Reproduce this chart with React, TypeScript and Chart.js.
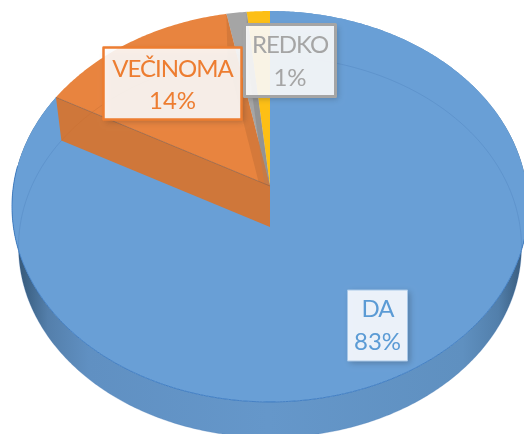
import React, { useEffect, useRef } from "react";
import { Chart, registerables } from "chart.js";

Chart.register(...registerables);

const categories = ["DA", "VEČINOMA", "REDKO", ""];
const shareValues = [83, 14, 1.4, 1.6];
const topColors = ["#699fd6", "#e8843f", "#a5a5a5", "#fdbf15"];
const wallColors = ["#6295c8", "#cf773a", "#8f8f8f", "#d9a40f"];
const textColors = ["#5b9bd5", "#ed7d31", "#a5a5a5", "#ffc000"];

const labelBoxes = [
  { x: 347.5, y: 290, w: 60, h: 71, border: "#a9c8e8", lw: 1, fill: "rgba(240,245,252,0.97)", line1: 19, line2: 52 },
  { x: 103.5, y: 47.5, w: 138, h: 72, border: "#ed7d31", lw: 2.5, fill: "rgba(255,255,255,0.88)", line1: 22, line2: 54 },
  { x: 244.5, y: 24.5, w: 91, h: 72, border: "#a5a5a5", lw: 3, fill: "rgba(255,255,255,0.89)", line1: 21, line2: 54 },
];

// perspective of the pie's disc
const CX = 270;
const AX = 256.6;
const BY = 193.3;
const PERSP = 0.1048;
const APEX_Y = 186;
const NADIR_Y = 1800;
const DROP = 0.9746;

type P = [number, number];

function topPoint(u: number, v: number): P {
  const w = 1 + PERSP * v;
  return [CX + (AX * u) / w, APEX_Y - (BY * v) / w];
}
function lowPoint(u: number, v: number): P {
  const [x, y] = topPoint(u, v);
  return [CX + (x - CX) * DROP, NADIR_Y + (y - NADIR_Y) * DROP];
}
function arcPoints(a0: number, a1: number, fn: (u: number, v: number) => P): P[] {
  const out: P[] = [];
  const n = Math.max(2, Math.ceil((a1 - a0) / 0.01));
  for (let i = 0; i <= n; i++) {
    const t = a0 + ((a1 - a0) * i) / n + Math.PI / 2;
    out.push(fn(Math.sin(t), Math.cos(t)));
  }
  return out;
}
function poly(ctx: CanvasRenderingContext2D, pts: P[]) {
  ctx.beginPath();
  pts.forEach((p, i) => (i ? ctx.lineTo(p[0], p[1]) : ctx.moveTo(p[0], p[1])));
  ctx.closePath();
}
function line(ctx: CanvasRenderingContext2D, pts: P[], color: string) {
  ctx.beginPath();
  pts.forEach((p, i) => (i ? ctx.lineTo(p[0], p[1]) : ctx.moveTo(p[0], p[1])));
  ctx.strokeStyle = color;
  ctx.lineWidth = 1;
  ctx.stroke();
}

const pie3d = {
  id: "pie3d",
  beforeDatasetDraw() {
    return false;
  },
  afterDatasetsDraw(chart: any) {
    const ctx: CanvasRenderingContext2D = chart.ctx;
    const arcs = chart.getDatasetMeta(0).data;
    const apex = topPoint(0, 0);
    const apexLow = lowPoint(0, 0);
    ctx.save();
    ctx.lineJoin = "round";

    // outer wall of the big slice
    const first = arcs[0];
    const topA = arcPoints(first.startAngle, first.endAngle, topPoint);
    const lowA = arcPoints(first.startAngle, first.endAngle, lowPoint);
    const wallGrad = ctx.createLinearGradient(12, 0, 524, 0);
    wallGrad.addColorStop(0, "#33516e");
    wallGrad.addColorStop(0.03, "#3e6488");
    wallGrad.addColorStop(0.07, "#547fab");
    wallGrad.addColorStop(0.15, "#6090c2");
    wallGrad.addColorStop(0.5, "#6597ca");
    wallGrad.addColorStop(0.88, "#5f90c0");
    wallGrad.addColorStop(0.95, "#527fab");
    wallGrad.addColorStop(0.985, "#3f6488");
    wallGrad.addColorStop(1, "#3a5c7e");
    poly(ctx, [...topA, ...lowA.slice().reverse()]);
    ctx.fillStyle = wallGrad;
    ctx.fill();

    // top faces
    arcs.forEach((el: any, i: number) => {
      poly(ctx, [apex, ...arcPoints(el.startAngle, el.endAngle, topPoint)]);
      ctx.fillStyle = topColors[i];
      ctx.fill();
    });

    // the far side walls seen through the slices
    for (let i = arcs.length - 2; i >= 1; i--) {
      const el = arcs[i];
      const endT = arcPoints(el.endAngle, el.endAngle + 0.001, topPoint)[0];
      const endL = arcPoints(el.endAngle, el.endAngle + 0.001, lowPoint)[0];
      poly(ctx, [apex, endT, endL, apexLow]);
      ctx.fillStyle = wallColors[i] + "cc";
      ctx.fill();
    }

    // faint outline of the lower disc, seen through the top
    line(ctx, lowA, "rgba(70,120,180,0.28)");
    // rim line along the front of the top face
    line(ctx, arcPoints(first.startAngle + 1.6, first.endAngle - 0.4, topPoint), "rgba(50,115,190,0.8)");

    // front wall of the orange slice
    const orange = arcs[1];
    const s0 = arcPoints(orange.startAngle, orange.startAngle + 0.001, topPoint)[0];
    const s1 = arcPoints(orange.startAngle, orange.startAngle + 0.001, lowPoint)[0];
    poly(ctx, [apex, s0, s1, apexLow]);
    ctx.fillStyle = wallColors[1];
    ctx.fill();
    line(ctx, [s0, apex], "rgba(150,100,70,0.7)");
    line(ctx, arcPoints(orange.startAngle, orange.endAngle, lowPoint), "rgba(200,110,50,0.45)");

    // labels
    const total = shareValues.reduce((a, b) => a + b, 0);
    ctx.textAlign = "center";
    ctx.textBaseline = "middle";
    ctx.font = '24px Lato, "Open Sans", sans-serif';
    labelBoxes.forEach((b, i) => {
      ctx.save();
      ctx.shadowColor = "rgba(40,40,40,0.3)";
      ctx.shadowBlur = 6;
      ctx.shadowOffsetX = 2;
      ctx.shadowOffsetY = 2;
      ctx.fillStyle = b.fill;
      ctx.fillRect(b.x, b.y, b.w, b.h);
      ctx.restore();
      ctx.strokeStyle = b.border;
      ctx.lineWidth = b.lw;
      ctx.strokeRect(b.x, b.y, b.w, b.h);
      ctx.fillStyle = textColors[i];
      const cx = b.x + b.w / 2;
      (ctx as any).letterSpacing = "-1px";
      ctx.fillText(categories[i], cx, b.y + b.line1);
      (ctx as any).letterSpacing = "0px";
      ctx.fillText(Math.round((shareValues[i] / total) * 100) + "%", cx, b.y + b.line2);
    });
    ctx.restore();
  },
};

export default function App() {
  const ref = useRef<HTMLCanvasElement>(null);
  useEffect(() => {
    const chart = new Chart(ref.current as HTMLCanvasElement, {
      type: "pie",
      data: {
        labels: categories,
        datasets: [{ data: shareValues, backgroundColor: topColors, borderWidth: 0 }],
      },
      options: {
        animation: false,
        responsive: false,
        plugins: { legend: { display: false }, tooltip: { enabled: false } },
      },
      plugins: [pie3d],
    } as any);
    return () => chart.destroy();
  }, []);
  return (
    <div style={{ position: "fixed", left: 0, top: 0, width: 524, height: 434, background: "#fff" }}>
      <canvas ref={ref} width={524} height={434} style={{ display: "block" }} />
    </div>
  );
}
